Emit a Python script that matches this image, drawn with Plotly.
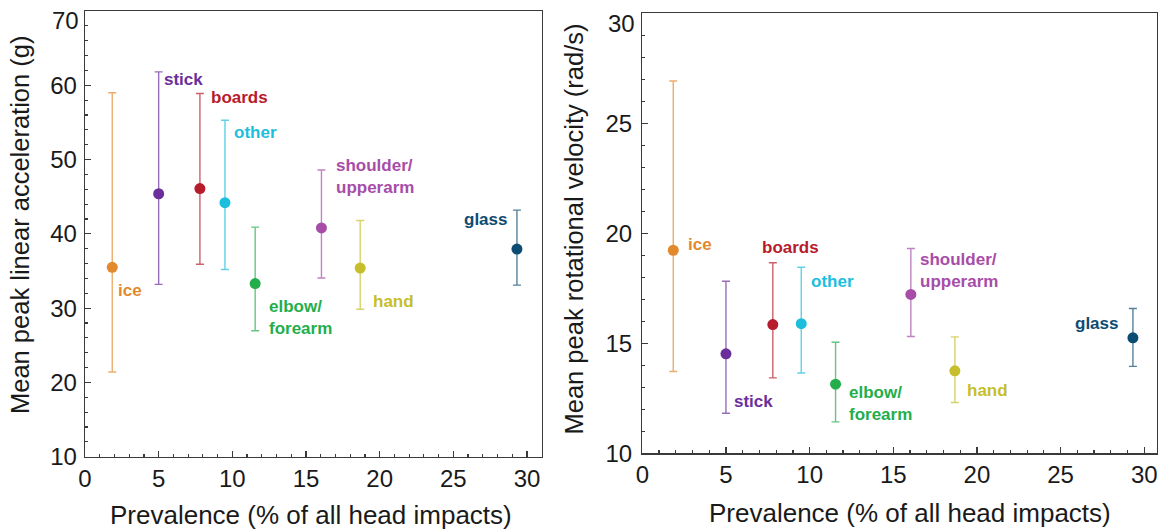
import plotly.graph_objects as go

# ---------------- data ----------------
categories = ["ice", "stick", "boards", "other", "elbow/forearm",
              "shoulder/upperarm", "hand", "glass"]
prevalence = [1.85, 5.0, 7.8, 9.5, 11.55, 16.05, 18.68, 29.32]

lin_mean = [35.5, 45.4, 46.1, 44.2, 33.3, 40.8, 35.4, 37.95]
lin_upper = [59.0, 61.8, 58.9, 55.3, 40.9, 48.6, 41.8, 43.2]
lin_lower = [21.4, 33.2, 35.9, 35.2, 26.95, 34.05, 29.85, 33.1]

rot_mean = [19.23, 14.52, 15.85, 15.89, 13.14, 17.22, 13.75, 15.25]
rot_upper = [26.92, 17.82, 18.66, 18.46, 15.05, 19.31, 15.29, 16.58]
rot_lower = [13.72, 11.82, 13.43, 13.65, 11.43, 15.31, 12.31, 13.95]

colors = ["#E2892E", "#6B2F9B", "#B71C2C", "#1CBEDD", "#24AE4B",
          "#A74DA9", "#C6BE2C", "#0D4C72"]

label_text = ["ice", "stick", "boards", "other", "elbow/<br>forearm",
              "shoulder/<br>upperarm", "hand", "glass"]

x_ticks = [0, 5, 10, 15, 20, 25, 30]
lin_ticks = [10, 20, 30, 40, 50, 60, 70]
rot_ticks = [10, 15, 20, 25, 30]

# label anchor positions (x, y, xanchor) in data coords, one per category
lin_label_pos = [(2.2, 32.4, "left"), (5.3, 60.75, "left"), (8.5, 58.3, "left"),
                 (10.05, 53.6, "left"), (12.45, 28.7, "left"), (17.0, 47.7, "left"),
                 (19.45, 30.9, "left"), (28.7, 41.9, "right")]
rot_label_pos = [(2.65, 19.5, "left"), (5.45, 12.35, "left"), (7.1, 19.35, "left"),
                 (10.05, 17.8, "left"), (12.28, 12.26, "left"), (16.56, 18.33, "left"),
                 (19.33, 12.85, "left"), (28.5, 15.92, "right")]


def rgba(hexc, a):
    h = hexc.lstrip("#")
    r, g, b = int(h[0:2], 16), int(h[2:4], 16), int(h[4:6], 16)
    return f"rgba({r},{g},{b},{a})"


W, H = 1164, 531
fig = go.Figure()

panels = [
    ("x", "y", lin_mean, lin_upper, lin_lower),
    ("x2", "y2", rot_mean, rot_upper, rot_lower),
]
for xa, ya, mean, up, lo in panels:
    for i, cat in enumerate(categories):
        fig.add_trace(go.Scatter(
            x=[prevalence[i]], y=[mean[i]], xaxis=xa, yaxis=ya,
            mode="markers", name=cat, showlegend=False,
            marker=dict(color=colors[i], size=11, line=dict(width=0)),
            error_y=dict(type="data", symmetric=False,
                         array=[up[i] - mean[i]], arrayminus=[mean[i] - lo[i]],
                         color=rgba(colors[i], 0.7), thickness=1.4, width=4),
            cliponaxis=False, hoverinfo="skip",
        ))

FONT = "Liberation Sans, Arial, Helvetica, sans-serif"
TICK_FONT = dict(family=FONT, size=24, color="#1a1a1a")
axis_common = dict(
    showline=True, linecolor="#3a3a3a", linewidth=1.3, mirror=True,
    ticks="inside", ticklen=6, tickwidth=1.2, tickcolor="#3a3a3a",
    showgrid=False, zeroline=False, ticklabeloverflow="allow",
    tickfont=TICK_FONT,
)

# top y tick label is drawn slightly lowered (as in the reference)
lin_ticktext = [str(v) for v in lin_ticks[:-1]] + [""]
rot_ticktext = [str(v) for v in rot_ticks[:-1]] + [""]

XD1 = [85 / W, 541.7 / W]
YD1 = [1 - 456.7 / H, 1 - 11 / H]
XD2 = [642.3 / W, 1156.5 / W]
YD2 = [1 - 453.3 / H, 1 - 13.3 / H]

fig.update_layout(
    width=W, height=H, autosize=False,
    margin=dict(l=0, r=0, t=0, b=0, pad=0, autoexpand=False),
    paper_bgcolor="white", plot_bgcolor="white",
    showlegend=False, hovermode=False,
    xaxis=dict(domain=XD1, range=[0, 31], anchor="y",
               tickvals=x_ticks, ticklabelstandoff=0,
               minor=dict(dtick=1, ticks="inside", ticklen=3, tickcolor="#3a3a3a"),
               **axis_common),
    yaxis=dict(domain=YD1, range=[10, 70], anchor="x",
               tickvals=lin_ticks, ticktext=lin_ticktext, ticklabelstandoff=2,
               minor=dict(dtick=2, ticks="inside", ticklen=3, tickcolor="#3a3a3a"),
               **axis_common),
    xaxis2=dict(domain=XD2, range=[0, 30.73], anchor="y2",
                tickvals=x_ticks, ticklabelstandoff=0,
                minor=dict(dtick=1, ticks="inside", ticklen=3, tickcolor="#3a3a3a"),
                **axis_common),
    yaxis2=dict(domain=YD2, range=[10, 30], anchor="x2",
                tickvals=rot_ticks, ticktext=rot_ticktext, ticklabelstandoff=4,
                minor=dict(dtick=1, ticks="inside", ticklen=3, tickcolor="#3a3a3a"),
                **axis_common),
)

annotations = []
for pos, xr, yr in [(lin_label_pos, "x", "y"), (rot_label_pos, "x2", "y2")]:
    for i, (lx, ly, anc) in enumerate(pos):
        txt = "<br>".join(f"<b>{t}</b>" for t in label_text[i].split("<br>"))
        annotations.append(dict(
            text=txt, x=lx, y=ly, xref=xr, yref=yr, align="left",
            xanchor=anc, yanchor="middle", showarrow=False, borderpad=0,
            font=dict(family=FONT, size=17, color=colors[i]),
        ))

# lowered top tick labels
annotations += [
    dict(text=str(lin_ticks[-1]), x=XD1[0] - 5 / W, y=1 - 21 / H,
         xref="paper", yref="paper", showarrow=False, borderpad=0,
         xanchor="right", yanchor="middle", font=TICK_FONT),
    dict(text=str(rot_ticks[-1]), x=XD2[0] - 6 / W, y=1 - 23.5 / H,
         xref="paper", yref="paper", showarrow=False, borderpad=0,
         xanchor="right", yanchor="middle", font=TICK_FONT),
]

ytitle_font = dict(family=FONT, size=25.5, color="#1a1a1a")
xtitle_font = dict(family=FONT, size=26, color="#1a1a1a")
annotations += [
    dict(text="Mean peak linear acceleration (g)", x=20 / W, y=1 - 225 / H,
         xref="paper", yref="paper", textangle=-90, showarrow=False,
         xanchor="center", yanchor="middle", font=ytitle_font),
    dict(text="Mean peak rotational velocity (rad/s)", x=574 / W, y=1 - 229.5 / H,
         xref="paper", yref="paper", textangle=-90, showarrow=False,
         xanchor="center", yanchor="middle", font=ytitle_font),
    dict(text="Prevalence (% of all head impacts)", x=310.6 / W, y=1 - 515 / H,
         xref="paper", yref="paper", showarrow=False,
         xanchor="center", yanchor="middle", font=xtitle_font),
    dict(text="Prevalence (% of all head impacts)", x=909.6 / W, y=1 - 513 / H,
         xref="paper", yref="paper", showarrow=False,
         xanchor="center", yanchor="middle", font=xtitle_font),
]
fig.update_layout(annotations=annotations)

fig.write_html(
    "out.html",
    config={"displayModeBar": False, "staticPlot": True},
    post_script="document.body.style.margin='0';document.body.style.padding='0';"
                "document.body.style.overflow='hidden';",
)
